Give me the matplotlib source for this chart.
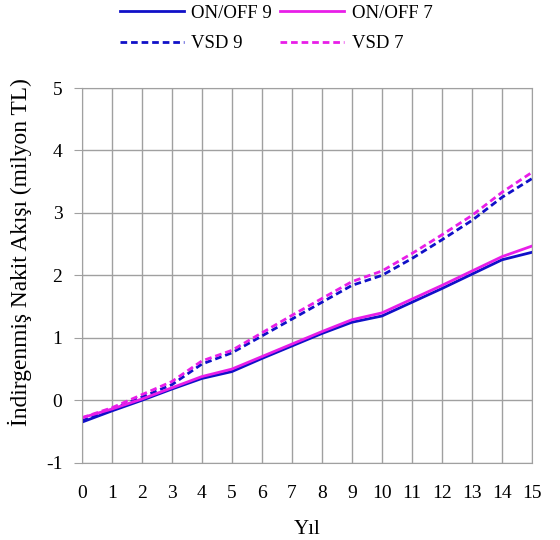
import matplotlib
matplotlib.use("Agg")
import matplotlib.pyplot as plt

plt.rcParams["font.family"] = ["Liberation Serif", "DejaVu Serif"]
plt.rcParams["axes.unicode_minus"] = False

years = list(range(16))
onoff9 = [-0.35, -0.17, 0.0, 0.18, 0.35, 0.46, 0.67, 0.87, 1.07, 1.25, 1.35, 1.57, 1.79, 2.02, 2.25, 2.37]
onoff7 = [-0.28, -0.14, 0.02, 0.2, 0.38, 0.5, 0.7, 0.9, 1.1, 1.29, 1.4, 1.62, 1.84, 2.07, 2.3, 2.47]
vsd9 = [-0.33, -0.14, 0.05, 0.25, 0.58, 0.76, 1.03, 1.3, 1.57, 1.84, 2.0, 2.27, 2.57, 2.88, 3.25, 3.55]
vsd7 = [-0.28, -0.12, 0.09, 0.3, 0.63, 0.8, 1.08, 1.36, 1.63, 1.9, 2.07, 2.35, 2.65, 2.96, 3.33, 3.65]

BLUE = "#1010c8"
MAG = "#e81ee8"
GRID = "#a0a0a0"
DASH = (0, (2.4, 1.4))

fig = plt.figure(figsize=(5.6, 5.4), dpi=100)
ax = fig.add_axes([0.146, 0.143, 0.804, 0.694])

ax.plot(years, onoff9, color=BLUE, lw=2, label="ON/OFF 9")
ax.plot(years, vsd9, color=BLUE, lw=2, ls=DASH, label="VSD 9")
ax.plot(years, onoff7, color=MAG, lw=2, label="ON/OFF 7")
ax.plot(years, vsd7, color=MAG, lw=2, ls=DASH, label="VSD 7")

ax.set_xlim(0, 15)
ax.set_ylim(-1, 5)
ax.set_xticks(years)
ax.set_yticks(range(-1, 6))
ax.grid(True, color=GRID, lw=1)
for s in ax.spines.values():
    s.set_color(GRID)
ax.tick_params(axis="x", length=0, labelsize=14, pad=16)
ax.tick_params(axis="y", length=6, color=GRID, labelsize=14, pad=8)
ax.set_xlabel("Yıl", fontsize=15, labelpad=13)
ax.set_ylabel("İndirgenmiş Nakit Akışı (milyon TL)", fontsize=16.8)
ax.yaxis.set_label_coords(-0.111, 0.563)

fig.legend(ncol=2, loc="upper left", bbox_to_anchor=(0.206, 1.0), frameon=False,
           fontsize=13.5, handlelength=3.4, handletextpad=0.4, columnspacing=0.45,
           labelspacing=0.72, borderpad=0.25, borderaxespad=0)

fig.savefig("out.png")
